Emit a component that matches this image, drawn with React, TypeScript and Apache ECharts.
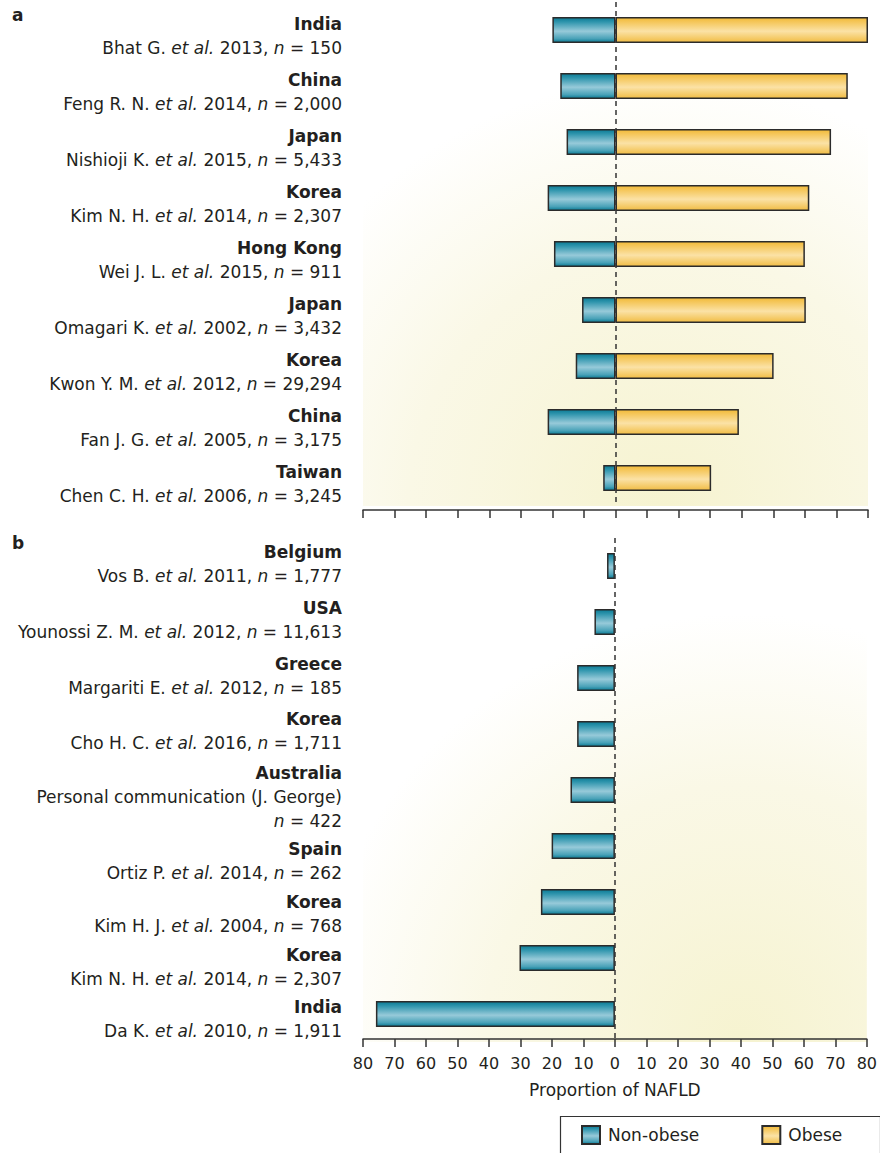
import React, { useEffect, useRef } from "react";
import * as echarts from "echarts";

// ---------- data ----------
const aCountries = ["India", "China", "Japan", "Korea", "Hong Kong", "Japan", "Korea", "China", "Taiwan"];
const aAuthors = ["Bhat G.", "Feng R. N.", "Nishioji K.", "Kim N. H.", "Wei J. L.", "Omagari K.", "Kwon Y. M.", "Fan J. G.", "Chen C. H."];
const aYears = ["2013", "2014", "2015", "2014", "2015", "2002", "2012", "2005", "2006"];
const aN = ["150", "2,000", "5,433", "2,307", "911", "3,432", "29,294", "3,175", "3,245"];
const aNonObese = [20, 17.5, 15.5, 21.5, 19.5, 10.6, 12.6, 21.5, 3.9];
const aObese = [80, 73.6, 68.3, 61.4, 60.0, 60.3, 50.1, 39.1, 30.3];

const bCountries = ["Belgium", "USA", "Greece", "Korea", "Australia", "Spain", "Korea", "Korea", "India"];
const bAuthors = ["Vos B.", "Younossi Z. M.", "Margariti E.", "Cho H. C.", "Personal communication (J. George)", "Ortiz P.", "Kim H. J.", "Kim N. H.", "Da K."];
const bYears = ["2011", "2012", "2012", "2016", "", "2014", "2004", "2014", "2010"];
const bN = ["1,777", "11,613", "185", "1,711", "422", "262", "768", "2,307", "1,911"];
const bNonObese = [2.5, 6.5, 12.0, 12.0, 14.1, 20.1, 23.5, 30.3, 75.9];

const xMin = -80;
const xMax = 80;
const xInterval = 10;
const axisName = "Proportion of NAFLD";
const legendNames = ["Non-obese", "Obese"];

// label vertical shifts (style only)
const aLabelShift = [6, 6, 6, 6, 6, 6, 6, 6, 6];
const bLabelShift = [-2, -2, -2, -3, 7, 15, 12, 9, 5];

const FONT = "DejaVu Sans";
const TXT = "#231f20";
const FS = 17;

const tealGrad = () =>
  new echarts.graphic.LinearGradient(0, 0, 0, 1, [
    { offset: 0, color: "#0a7b95" },
    { offset: 0.18, color: "#3196ae" },
    { offset: 0.55, color: "#97cad9" },
    { offset: 0.85, color: "#4aa2b8" },
    { offset: 1, color: "#0a7b95" },
  ]);
const yellowGrad = () =>
  new echarts.graphic.LinearGradient(0, 0, 0, 1, [
    { offset: 0, color: "#f2ba38" },
    { offset: 0.55, color: "#fbe2a6" },
    { offset: 1, color: "#f1bd45" },
  ]);

const citation = (author: string, year: string, n: string) =>
  year
    ? `{t|${author} }{i|et al.}{t| ${year}, }{i|n}{t| = ${n}}`
    : `{t|${author}}\n{i|n}{t| = ${n}}`;

const rich = {
  c: { fontFamily: FONT, fontWeight: "bold", fontSize: FS, lineHeight: 24, color: TXT },
  t: { fontFamily: FONT, fontSize: FS, lineHeight: 24, color: TXT },
  i: { fontFamily: FONT, fontStyle: "italic", fontSize: FS, lineHeight: 24, color: TXT },
};

const catData = (prefix: string, shifts: number[]) =>
  shifts.map((s, i) => ({
    value: prefix + i,
    textStyle: { padding: s >= 0 ? [2 * s, 0, 0, 0] : [0, 0, -2 * s, 0] },
  }));

export default function App() {
  const ref = useRef<HTMLDivElement>(null);
  useEffect(() => {
    if (!ref.current) return;
    const chart = echarts.init(ref.current, undefined, { renderer: "svg" });
    const barItem = (grad: any) => ({ color: grad, borderColor: "#2b2b2b", borderWidth: 1.5 });
    const bg = (cx: number, cy: number, r: number) => ({
      type: "radial",
      x: cx,
      y: cy,
      r,
      colorStops: [
        { offset: 0, color: "#f6f3d0" },
        { offset: 0.6, color: "#faf8e6" },
        { offset: 1, color: "#ffffff" },
      ],
    });
    const xAxisBase = {
      type: "value",
      min: xMin,
      max: xMax,
      interval: xInterval,
      splitLine: { show: false },
      axisLine: { show: true, lineStyle: { color: "#333", width: 1.5 } },
      axisTick: { show: true, length: 8, lineStyle: { color: "#333", width: 1.5 } },
    };
    const yAxisBase = {
      type: "category",
      inverse: true,
      axisLine: { show: false },
      axisTick: { show: false },
    };
    const zeroLine = {
      silent: true,
      symbol: "none",
      label: { show: false },
      lineStyle: { type: [5, 4], color: "#333", width: 1.5 },
      data: [{ xAxis: 0 }],
    };
    chart.setOption({
      animation: false,
      textStyle: { fontFamily: FONT },
      grid: [
        { left: 363, width: 505, top: 2, height: 504, show: true, borderWidth: 0, backgroundColor: bg(0.6, 1.0, 0.85) },
        { left: 363, width: 505, top: 538, height: 504, show: true, borderWidth: 0, backgroundColor: bg(0.75, 1.0, 0.85) },
      ],
      xAxis: [
        { ...xAxisBase, gridIndex: 0, offset: 4, axisLabel: { show: false } },
        {
          ...xAxisBase,
          gridIndex: 1,
          offset: -3,
          axisLabel: {
            show: true,
            margin: 16,
            fontSize: 16,
            color: TXT,
            fontFamily: FONT,
            formatter: (v: number) => String(Math.abs(v)),
          },
          name: axisName,
          nameLocation: "middle",
          nameGap: 42,
          nameTextStyle: { fontSize: FS, color: TXT, fontFamily: FONT },
        },
      ],
      yAxis: [
        {
          ...yAxisBase,
          gridIndex: 0,
          data: catData("a", aLabelShift),
          axisLabel: {
            margin: 21,
            rich,
            formatter: (_v: string, i: number) =>
              `{c|${aCountries[i]}}\n` + citation(aAuthors[i], aYears[i], aN[i]),
          },
        },
        {
          ...yAxisBase,
          gridIndex: 1,
          data: catData("b", bLabelShift),
          axisLabel: {
            margin: 21,
            rich,
            formatter: (_v: string, i: number) =>
              `{c|${bCountries[i]}}\n` + citation(bAuthors[i], bYears[i], bN[i]),
          },
        },
      ],
      legend: {
        data: legendNames,
        left: 581,
        top: 1125,
        orient: "horizontal",
        icon: "rect",
        itemWidth: 18,
        itemHeight: 18,
        itemGap: 62,
        padding: 0,
        textStyle: { fontSize: FS, color: TXT, fontFamily: FONT, padding: [0, 0, 0, 3] },
      },
      graphic: [
        { type: "text", left: 12, top: 6, style: { text: "a", font: `bold 17px "${FONT}"`, fill: TXT } },
        { type: "text", left: 12, top: 534, style: { text: "b", font: `bold 17px "${FONT}"`, fill: TXT } },
        {
          type: "rect",
          left: 558,
          top: 1114,
          shape: { width: 320, height: 60 },
          style: { fill: "none", stroke: "#333", lineWidth: 1.2 },
        },
      ],
      series: [
        {
          name: legendNames[0],
          type: "bar",
          xAxisIndex: 0,
          yAxisIndex: 0,
          barWidth: 26,
          barGap: "-100%",
          data: aNonObese.map((v) => -v),
          itemStyle: barItem(tealGrad()),
          markLine: zeroLine,
          z: 3,
        },
        {
          name: legendNames[1],
          type: "bar",
          xAxisIndex: 0,
          yAxisIndex: 0,
          barWidth: 26,
          barGap: "-100%",
          data: aObese,
          itemStyle: barItem(yellowGrad()),
          z: 3,
        },
        {
          name: legendNames[0],
          type: "bar",
          xAxisIndex: 1,
          yAxisIndex: 1,
          barWidth: 26,
          data: bNonObese.map((v) => -v),
          itemStyle: barItem(tealGrad()),
          markLine: zeroLine,
          z: 3,
        },
      ],
    });
    return () => chart.dispose();
  }, []);
  return (
    <div
      ref={ref}
      style={{ position: "absolute", left: 0, top: 0, width: 880, height: 1153, background: "#fff" }}
    />
  );
}
